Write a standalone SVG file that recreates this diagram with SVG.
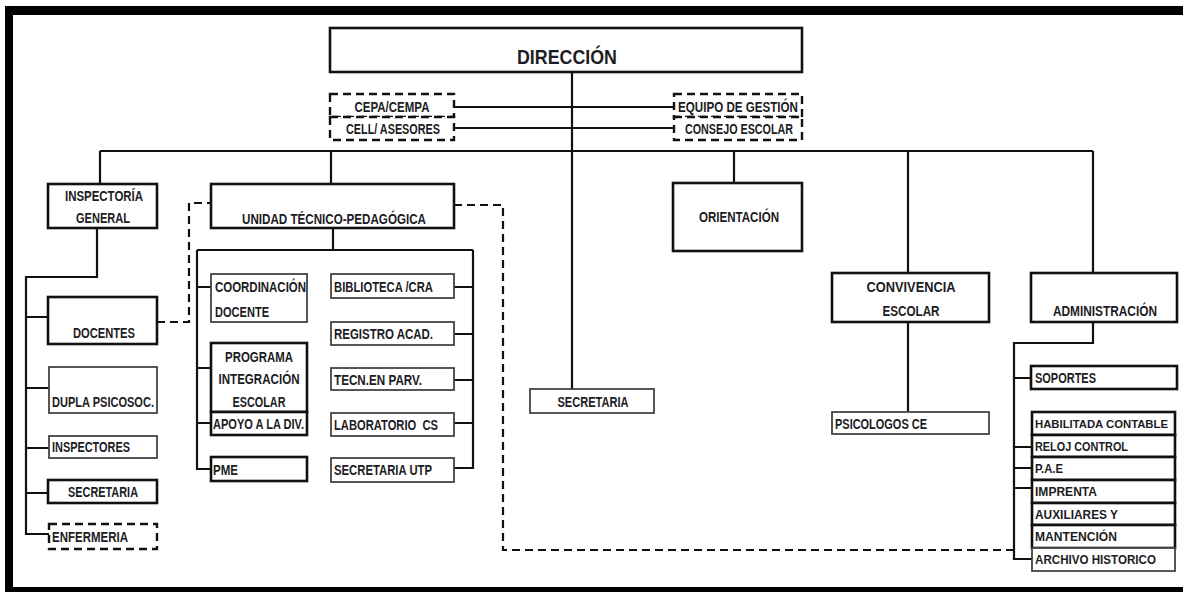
<svg xmlns="http://www.w3.org/2000/svg" width="1183" height="592" viewBox="0 0 1183 592">
<style>
.bg{fill:#ffffff}
.frame{fill:#000000}
.bx{fill:#ffffff;stroke:#111111;stroke-width:2.6}
.bt{fill:#ffffff;stroke:#444444;stroke-width:1.8}
.bd{fill:#ffffff;stroke:#111111;stroke-width:2.4;stroke-dasharray:8 5}
.ln{fill:none;stroke:#111111;stroke-width:2.2}
.dl{fill:none;stroke:#111111;stroke-width:2.2;stroke-dasharray:8 5}
text{font-family:"Liberation Sans",Arial,sans-serif;font-weight:bold;font-size:14px;fill:#1c1c24}
.c{text-anchor:middle}
.s{font-size:13px}
</style>
<rect class="bg" x="0" y="0" width="1183" height="592"/>
<g id="frame">
<rect class="frame" x="5" y="6" width="1178" height="9"/>
<rect class="frame" x="5" y="6" width="8" height="586"/>
<rect class="frame" x="5" y="587" width="1178" height="5"/>
</g>
<g id="connectors">
<path class="ln" d="M572,72 V389"/>
<path class="ln" d="M454,107 H674 M454,128 H674"/>
<path class="ln" d="M100,151 H1093 M100,151 V184 M331,151 V184 M734,151 V183 M908,151 V273 M1093,151 V273"/>
<path class="ln" d="M97,228 V277 H26 V534 H49 M26,317 H48 M26,388 H49 M26,448 H49 M26,493 H48"/>
<path class="ln" d="M333,228 V250 M197,250 H473 M197,250 V469 H211 M197,287 H211 M197,368 H211 M197,423 H211"/>
<path class="ln" d="M473,250 V468 H454 M473,287 H454 M473,334 H454 M473,380 H454 M473,423 H454"/>
<path class="ln" d="M908,322 V412"/>
<path class="ln" d="M1093,322 V343 H1014 V559 H1032 M1014,378 H1031 M1014,447 H1032 M1014,468 H1032 M1014,488 H1032"/>
<path class="dl" d="M157,322 H189 V203 H211"/>
<path class="dl" d="M454,205 H503 V550 H1014"/>
</g>
<g id="direccion"><rect class="bx" x="330" y="28" width="472" height="44"/><text class="c" x="567" y="64" style="font-size:20px" textLength="100" lengthAdjust="spacingAndGlyphs">DIRECCIÓN</text></g>
<g id="cepa"><rect class="bd" x="330" y="94" width="124" height="23"/><text class="c" x="392" y="112" textLength="75" lengthAdjust="spacingAndGlyphs">CEPA/CEMPA</text></g>
<g id="cell"><rect class="bd" x="330" y="117" width="124" height="23"/><text class="c" x="393" y="134" textLength="94" lengthAdjust="spacingAndGlyphs">CELL/ ASESORES</text></g>
<g id="equipo"><rect class="bd" x="674" y="94" width="128" height="23"/><text class="c" x="738" y="112" textLength="120" lengthAdjust="spacingAndGlyphs">EQUIPO DE GESTIÓN</text></g>
<g id="consejo"><rect class="bd" x="674" y="117" width="128" height="23"/><text class="c" x="739" y="134" textLength="108" lengthAdjust="spacingAndGlyphs">CONSEJO ESCOLAR</text></g>
<g id="inspectoria"><rect class="bx" x="48" y="184" width="109" height="44"/><text class="c" x="104" y="201" textLength="78" lengthAdjust="spacingAndGlyphs">INSPECTORÍA</text><text class="c" x="103" y="223" textLength="54" lengthAdjust="spacingAndGlyphs">GENERAL</text></g>
<g id="docentes"><rect class="bx" x="48" y="297" width="109" height="47"/><text class="c" x="104" y="338" textLength="62" lengthAdjust="spacingAndGlyphs">DOCENTES</text></g>
<g id="dupla"><rect class="bt" x="49" y="367" width="108" height="46"/><text x="52" y="407" textLength="102" lengthAdjust="spacingAndGlyphs">DUPLA PSICOSOC.</text></g>
<g id="inspectores"><rect class="bt" x="49" y="436" width="108" height="22"/><text x="52" y="452" textLength="78" lengthAdjust="spacingAndGlyphs">INSPECTORES</text></g>
<g id="secretaria-ig"><rect class="bx" x="48" y="480" width="109" height="23"/><text class="c" x="103" y="497" textLength="70" lengthAdjust="spacingAndGlyphs">SECRETARIA</text></g>
<g id="enfermeria"><rect class="bd" x="49" y="524" width="108" height="25"/><text x="52" y="542" textLength="76" lengthAdjust="spacingAndGlyphs">ENFERMERIA</text></g>
<g id="utp"><rect class="bx" x="211" y="184" width="243" height="44"/><text class="c" x="334" y="224" textLength="184" lengthAdjust="spacingAndGlyphs">UNIDAD TÉCNICO-PEDAGÓGICA</text></g>
<g id="coordinacion"><rect class="bt" x="211" y="274" width="96" height="48"/><text x="215" y="292" textLength="91" lengthAdjust="spacingAndGlyphs">COORDINACIÓN</text><text x="215" y="317" textLength="54" lengthAdjust="spacingAndGlyphs">DOCENTE</text></g>
<g id="pie"><rect class="bx" x="211" y="343" width="96" height="69"/><text class="c" x="259" y="362" textLength="68" lengthAdjust="spacingAndGlyphs">PROGRAMA</text><text class="c" x="259" y="384" textLength="81" lengthAdjust="spacingAndGlyphs">INTEGRACIÓN</text><text class="c" x="259" y="407" textLength="53" lengthAdjust="spacingAndGlyphs">ESCOLAR</text></g>
<g id="apoyo"><rect class="bx" x="211" y="412" width="96" height="23"/><text x="213" y="429" textLength="91" lengthAdjust="spacingAndGlyphs">APOYO A LA DIV.</text></g>
<g id="pme"><rect class="bx" x="211" y="457" width="96" height="24"/><text x="213" y="475" textLength="25" lengthAdjust="spacingAndGlyphs">PME</text></g>
<g id="biblioteca"><rect class="bt" x="331" y="274" width="123" height="24"/><text x="334" y="292" textLength="99" lengthAdjust="spacingAndGlyphs">BIBLIOTECA /CRA</text></g>
<g id="registro"><rect class="bt" x="331" y="322" width="123" height="23"/><text x="334" y="339" textLength="99" lengthAdjust="spacingAndGlyphs">REGISTRO ACAD.</text></g>
<g id="tecn"><rect class="bt" x="331" y="368" width="123" height="22"/><text x="334" y="385" textLength="88" lengthAdjust="spacingAndGlyphs">TECN.EN PARV.</text></g>
<g id="laboratorio"><rect class="bt" x="331" y="413" width="123" height="23"/><text x="334" y="430" xml:space="preserve" textLength="104" lengthAdjust="spacingAndGlyphs">LABORATORIO  CS</text></g>
<g id="secretaria-utp"><rect class="bt" x="331" y="458" width="123" height="24"/><text x="334" y="475" textLength="98" lengthAdjust="spacingAndGlyphs">SECRETARIA UTP</text></g>
<g id="orientacion"><rect class="bx" x="673" y="183" width="129" height="68"/><text class="c" x="739" y="222" textLength="80" lengthAdjust="spacingAndGlyphs">ORIENTACIÓN</text></g>
<g id="secretaria"><rect class="bt" x="530" y="389" width="124" height="24"/><text class="c" x="593" y="407" textLength="71" lengthAdjust="spacingAndGlyphs">SECRETARIA</text></g>
<g id="convivencia"><rect class="bx" x="832" y="273" width="157" height="49"/><text class="c" x="911" y="292" textLength="89" lengthAdjust="spacingAndGlyphs">CONVIVENCIA</text><text class="c" x="911" y="316" textLength="57" lengthAdjust="spacingAndGlyphs">ESCOLAR</text></g>
<g id="psicologos"><rect class="bt" x="832" y="412" width="157" height="22"/><text x="835" y="429" textLength="92" lengthAdjust="spacingAndGlyphs">PSICOLOGOS CE</text></g>
<g id="administracion"><rect class="bx" x="1031" y="273" width="146" height="49"/><text class="c" x="1105" y="316" textLength="104" lengthAdjust="spacingAndGlyphs">ADMINISTRACIÓN</text></g>
<g id="soportes"><rect class="bx" x="1031" y="366" width="146" height="23"/><text x="1035" y="383" textLength="61" lengthAdjust="spacingAndGlyphs">SOPORTES</text></g>
<g id="habilitada"><rect class="bx" x="1032" y="412" width="143" height="23"/><text x="1035" y="428" style="font-size:11px" textLength="133" lengthAdjust="spacingAndGlyphs">HABILITADA CONTABLE</text></g>
<g id="reloj"><rect class="bx" x="1032" y="435" width="143" height="22"/><text class="s" x="1035" y="451" textLength="93" lengthAdjust="spacingAndGlyphs">RELOJ CONTROL</text></g>
<g id="pae"><rect class="bx" x="1032" y="457" width="143" height="23"/><text class="s" x="1035" y="473" textLength="28" lengthAdjust="spacingAndGlyphs">P.A.E</text></g>
<g id="imprenta"><rect class="bx" x="1032" y="480" width="143" height="23"/><text class="s" x="1035" y="496" textLength="62" lengthAdjust="spacingAndGlyphs">IMPRENTA</text></g>
<g id="auxiliares"><rect class="bx" x="1032" y="503" width="143" height="22"/><text class="s" x="1035" y="519" textLength="83" lengthAdjust="spacingAndGlyphs">AUXILIARES Y</text></g>
<g id="mantencion"><rect class="bx" x="1032" y="525" width="143" height="23"/><text class="s" x="1035" y="541" textLength="82" lengthAdjust="spacingAndGlyphs">MANTENCIÓN</text></g>
<g id="archivo"><rect class="bt" x="1032" y="548" width="143" height="23"/><text class="s" x="1035" y="564" textLength="121" lengthAdjust="spacingAndGlyphs">ARCHIVO HISTORICO</text></g>
</svg>
